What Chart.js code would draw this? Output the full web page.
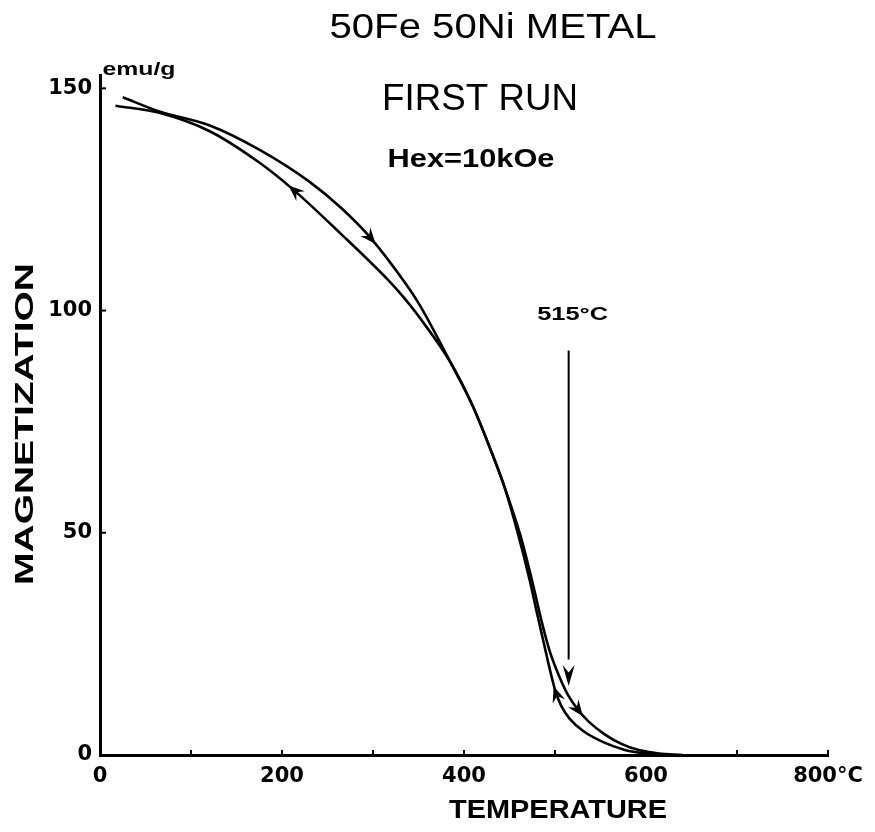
<!DOCTYPE html>
<html>
<head>
<meta charset="utf-8">
<title>50Fe 50Ni METAL - first run</title>
<script src="https://cdn.jsdelivr.net/npm/chart.js@4.4.1/dist/chart.umd.min.js"></script>
<style>
  html, body { margin: 0; padding: 0; background: #fff; }
  #wrap { width: 875px; height: 832px; }
</style>
</head>
<body>
<div id="wrap"><canvas id="magChart" width="875" height="832"></canvas></div>
<script>
// heating run, temperature (°C) and magnetization (emu/g)
var heatTemp = [25, 65, 120, 175, 230, 266, 298, 335, 352, 385, 409, 430, 444, 462, 476, 486, 494, 503, 513, 526, 537, 555, 573, 592, 614, 640];
var heatMag  = [148, 144.8, 141.7, 136.2, 129.0, 122.9, 116.2, 106.3, 101.0, 88.4, 78.8, 68.3, 60.6, 49.4, 38.2, 29.5, 23.5, 18.5, 14.0, 10.0, 7.5, 4.6, 2.5, 1.1, 0.35, 0];

// cooling run (stored low to high temperature, traversed the other way)
var coolTemp = [17, 65, 120, 175, 213, 265, 316, 334, 352, 385, 409, 430, 444, 459, 472, 481, 487, 492, 497, 501, 507, 516, 531, 553, 576, 595, 620];
var coolMag  = [146.1, 144.5, 140.4, 133.3, 127.1, 117.2, 107.0, 102.9, 98.2, 88.4, 78.8, 68.3, 60.6, 50.0, 39.5, 31.2, 25.8, 21.3, 17.0, 14.0, 11.0, 8.2, 5.4, 2.9, 1.2, 0.45, 0];

// where the direction arrows sit on each run
var heatArrowTemp = [298, 526];
var coolArrowTemp = [213, 501];

// Curie point marker
var curieTemp = 515;
var curieArrowMag = [91, 15.5];

// axes
var xTicks = [0, 100, 200, 300, 400, 500, 600, 700, 800];
var xTickLabels = ['0', '', '200', '', '400', '', '600', '', '800°C'];
var yTicks = [0, 50, 100, 150];

function toPoints(xs, ys) {
    return xs.map(function(x, i) { return { x: x, y: ys[i] }; });
}

// draw text stretched to a given width (the figure uses a wide lettering)
function wideText(ctx, str, x, y, font, width, angle) {
    ctx.save();
    ctx.font = font;
    var w = ctx.measureText(str).width;
    ctx.translate(x, y);
    if (angle) ctx.rotate(angle);
    ctx.scale(width / w, 1);
    ctx.textAlign = 'center';
    ctx.textBaseline = 'alphabetic';
    ctx.fillStyle = '#000';
    ctx.fillText(str, 0, 0);
    ctx.restore();
}

function arrowHead(ctx, x, y, ang, len, half) {
    ctx.save();
    ctx.translate(x, y);
    ctx.rotate(ang);
    ctx.beginPath();
    ctx.moveTo(0, 0);
    ctx.lineTo(-len, -half);
    ctx.lineTo(-len * 0.65, 0);
    ctx.lineTo(-len, half);
    ctx.closePath();
    ctx.fillStyle = '#000';
    ctx.fill();
    ctx.restore();
}

function nearestIndex(arr, v) {
    var best = 0;
    arr.forEach(function(a, i) { if (Math.abs(a - v) < Math.abs(arr[best] - v)) best = i; });
    return best;
}

var annotations = {
    id: 'annotations',
    afterDatasetsDraw: function(chart) {
        var ctx = chart.ctx;
        var xs = chart.scales.x, ys = chart.scales.y;
        var area = chart.chartArea;

        // small inward tick marks
        ctx.save();
        ctx.strokeStyle = '#000';
        ctx.lineWidth = 2;
        xs.ticks.forEach(function(t) {
            if (t.value === 0) return;
            var px = xs.getPixelForValue(t.value);
            ctx.beginPath();
            ctx.moveTo(px, area.bottom);
            ctx.lineTo(px, area.bottom - 5);
            ctx.stroke();
        });
        ys.ticks.forEach(function(t) {
            if (t.value === 0) return;
            var py = ys.getPixelForValue(t.value);
            ctx.beginPath();
            ctx.moveTo(area.left, py);
            ctx.lineTo(area.left + 6, py);
            ctx.stroke();
        });
        ctx.restore();

        // direction arrows on the two runs
        function runArrows(dsIndex, temps, arrowTemps, forward) {
            var pts = chart.getDatasetMeta(dsIndex).data;
            arrowTemps.forEach(function(t) {
                var i = nearestIndex(temps, t);
                var a = pts[Math.max(i - 1, 0)], b = pts[Math.min(i + 1, pts.length - 1)];
                var ang = Math.atan2(b.y - a.y, b.x - a.x);
                if (!forward) ang += Math.PI;
                var p = pts[i];
                arrowHead(ctx, p.x + Math.cos(ang) * 7, p.y + Math.sin(ang) * 7, ang, 16, 6.5);
            });
        }
        runArrows(0, heatTemp, heatArrowTemp, true);
        runArrows(1, coolTemp, coolArrowTemp, false);

        // Curie point arrow head
        var cx = xs.getPixelForValue(curieTemp);
        var cy = ys.getPixelForValue(curieArrowMag[1]);
        arrowHead(ctx, cx, cy, Math.PI / 2, 21, 6);
    },
    afterDraw: function(chart) {
        var ctx = chart.ctx;
        var xs = chart.scales.x, ys = chart.scales.y;
        wideText(ctx, '50Fe 50Ni METAL', 493, 38, '35px "Liberation Sans"', 327);
        wideText(ctx, 'FIRST RUN', 480, 110, '36px "Liberation Sans"', 196);
        wideText(ctx, 'Hex=10kOe', 471, 167, 'bold 25px "Liberation Sans"', 167);
        wideText(ctx, 'emu/g', 139, 75, 'bold 18px "Liberation Sans"', 73);
        wideText(ctx, '515°C', xs.getPixelForValue(curieTemp) + 4,
                 ys.getPixelForValue(curieArrowMag[0]) - 31, 'bold 19px "Liberation Sans"', 71);
        wideText(ctx, 'MAGNETIZATION', 33, 424, 'bold 25px "Liberation Sans"', 322, -Math.PI / 2);
        wideText(ctx, 'TEMPERATURE', 558, 818, 'bold 26px "Liberation Sans"', 218);
    }
};

var tickFont = { family: 'DejaVu Sans', weight: 'bold', size: 21 };

new Chart(document.getElementById('magChart'), {
    type: 'line',
    data: {
        datasets: [{
            label: 'Heating',
            data: toPoints(heatTemp, heatMag),
            borderColor: '#000',
            borderWidth: 2.6,
            pointRadius: 0,
            cubicInterpolationMode: 'monotone',
            fill: false
        }, {
            label: 'Cooling',
            data: toPoints(coolTemp, coolMag),
            borderColor: '#000',
            borderWidth: 2.6,
            pointRadius: 0,
            cubicInterpolationMode: 'monotone',
            fill: false
        }, {
            label: 'Curie point',
            data: [{ x: curieTemp, y: curieArrowMag[0] }, { x: curieTemp, y: curieArrowMag[1] + 6 }],
            borderColor: '#000',
            borderWidth: 2,
            pointRadius: 0,
            tension: 0,
            fill: false
        }]
    },
    options: {
        responsive: false,
        animation: false,
        layout: {
            padding: { left: 0, right: 47, top: 75, bottom: 0 }
        },
        plugins: {
            legend: { display: false },
            tooltip: { enabled: false }
        },
        scales: {
            x: {
                type: 'linear',
                min: 0,
                max: 800,
                afterBuildTicks: function(scale) {
                    scale.ticks = xTicks.map(function(v) { return { value: v }; });
                },
                afterFit: function(scale) { scale.height = 77; },
                ticks: {
                    color: '#000',
                    font: tickFont,
                    padding: 9,
                    maxRotation: 0,
                    autoSkip: false,
                    callback: function(v) { return xTickLabels[xTicks.indexOf(v)]; }
                },
                grid: { drawOnChartArea: false, drawTicks: false },
                border: { color: '#000', width: 3 }
            },
            y: {
                min: 0,
                max: 153,
                afterBuildTicks: function(scale) {
                    scale.ticks = yTicks.map(function(v) { return { value: v }; });
                },
                afterFit: function(scale) { scale.width = 100; },
                ticks: {
                    color: '#000',
                    font: tickFont,
                    padding: 8
                },
                grid: { drawOnChartArea: false, drawTicks: false },
                border: { color: '#000', width: 3 }
            }
        }
    },
    plugins: [annotations]
});
</script>
</body>
</html>
